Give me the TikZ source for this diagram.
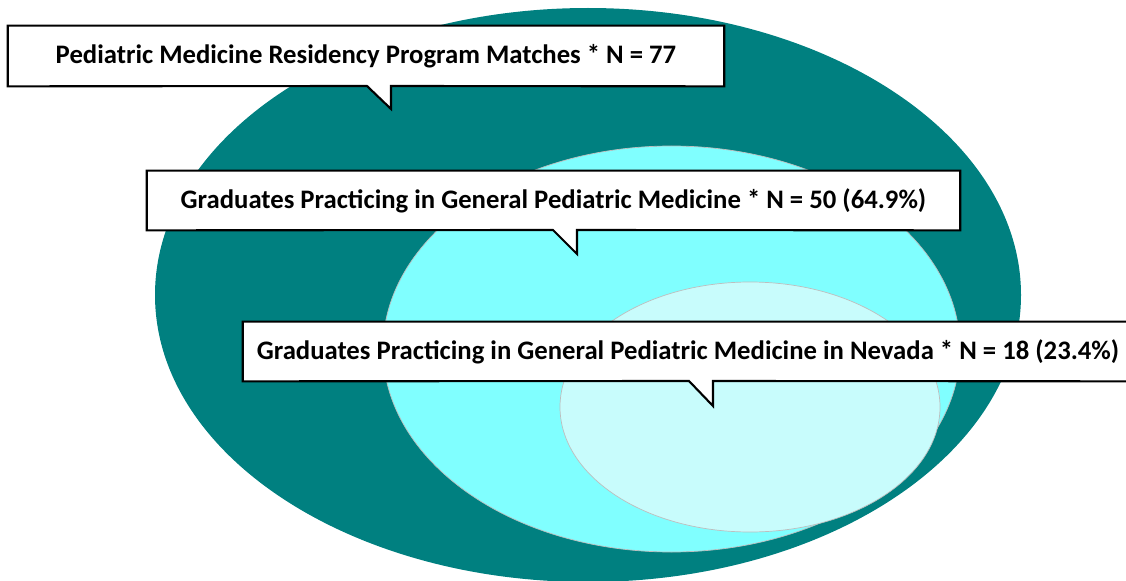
\documentclass[tikz,border=0pt]{standalone}
\usepackage{fontspec}
\setmainfont{Carlito}
\usepackage{tikz}
\definecolor{darkteal}{RGB}{0, 128, 128}
\definecolor{aqua}{RGB}{128, 255, 255}
\definecolor{paleaqua}{RGB}{200, 252, 252}
\definecolor{rimgray}{RGB}{190, 190, 190}
\def\rxouter{433}
\def\ryouter{287}
\def\rxmiddle{288.5}
\def\rymiddle{203}
\def\rxinner{190}
\def\ryinner{125}
\tikzset{
  calloutbox/.style={fill=white, inner sep=0pt, font=\fontsize{15.2}{17}\selectfont\bfseries},
  calloutrim/.style={draw=black, line width=1.2pt, line join=miter}
}

\begin{document}
\begin{tikzpicture}[x=0.02cm, y=-0.02cm]

                 \useasboundingbox (0, 0) rectangle (1126, 581);

                 \fill[darkteal] (588, 295) ellipse [x radius=\rxouter, y radius=\ryouter];
                 \filldraw[fill=aqua, draw=rimgray, line width=0.4pt] (671.5, 349)
                 ellipse [x radius=\rxmiddle, y radius=\rymiddle];
                 \filldraw[fill=paleaqua, draw=rimgray, line width=0.4pt] (750, 407)
                 ellipse [x radius=\rxinner, y radius=\ryinner];

                 \node[calloutbox, minimum width=14.32cm, minimum height=1.2cm] (boxa) at (366, 56)
                 {Pediatric Medicine Residency Program Matches * N = 77};
                 \coordinate (la) at (367, 86);
                 \coordinate (ra) at (391, 86);
                 \coordinate (tipa) at (391, 109);
                 \fill[white] (la) -- (tipa) -- (ra) -- cycle;
                 \draw[calloutrim] (boxa.south west) -- (boxa.north west) -- (boxa.north east) --
                 (boxa.south east) -- (ra) -- (tipa) -- (la) -- cycle;

                 \node[calloutbox, minimum width=16.26cm, minimum height=1.18cm] (boxb) at (553.5, 200.5)
                 {Graduates Practicing in General Pediatric Medicine * N = 50 (64.9\%)};
                 \coordinate (lb) at (553, 230);
                 \coordinate (rb) at (577, 230);
                 \coordinate (tipb) at (577, 254);
                 \fill[white] (lb) -- (tipb) -- (rb) -- cycle;
                 \draw[calloutrim] (boxb.south west) -- (boxb.north west) -- (boxb.north east) --
                 (boxb.south east) -- (rb) -- (tipb) -- (lb) -- cycle;

                 \node[calloutbox, minimum width=17.8cm, minimum height=1.18cm] (boxc) at (688, 351.5)
                 {Graduates Practicing in General Pediatric Medicine in Nevada * N = 18 (23.4\%)};
                 \coordinate (lc) at (689, 381);
                 \coordinate (rc) at (713, 381);
                 \coordinate (tipc) at (713, 406);
                 \fill[white] (lc) -- (tipc) -- (rc) -- cycle;
                 \draw[calloutrim] (boxc.south west) -- (boxc.north west) -- (boxc.north east) --
                 (boxc.south east) -- (rc) -- (tipc) -- (lc) -- cycle;

             \end{tikzpicture}
\end{document}
